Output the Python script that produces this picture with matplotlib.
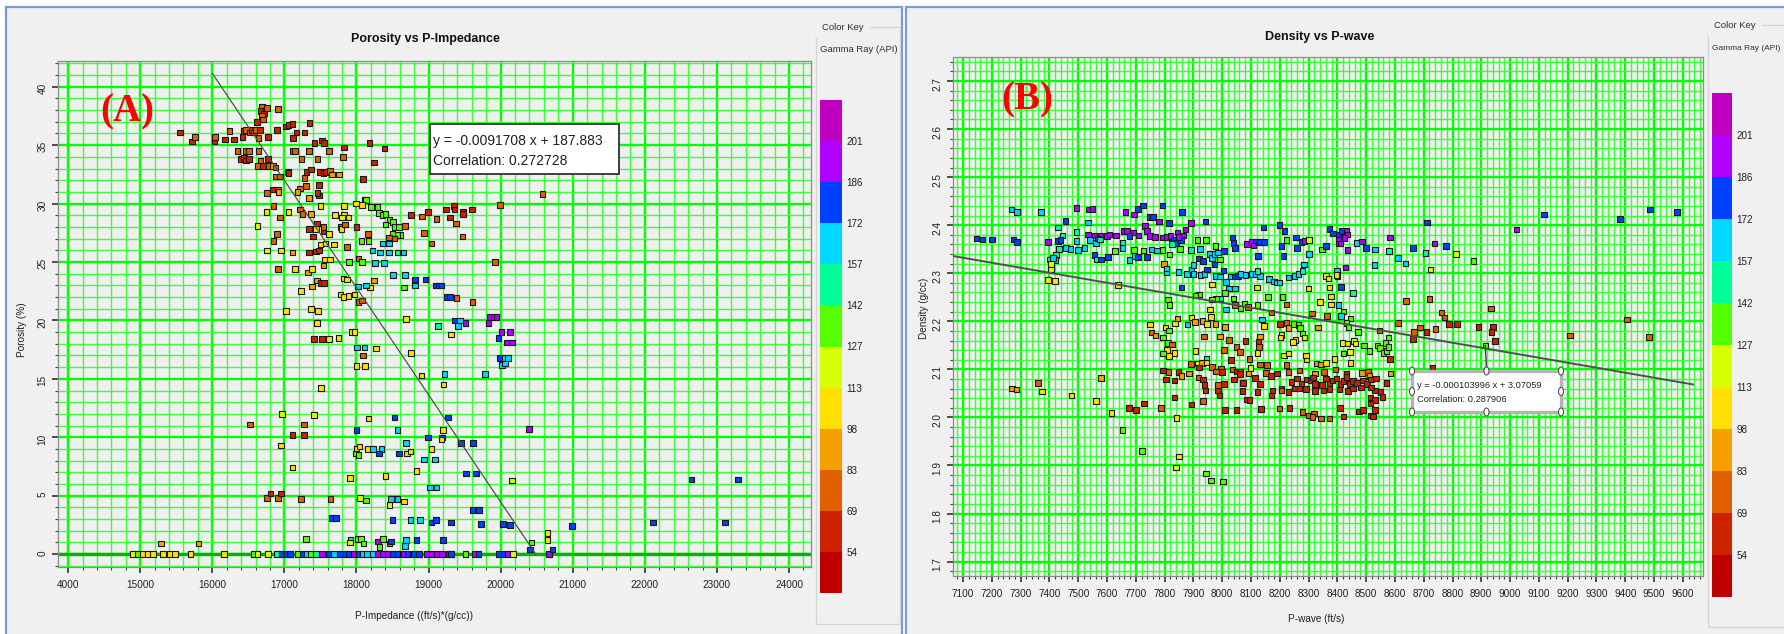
import numpy as np
import matplotlib
matplotlib.use("Agg")
import matplotlib.pyplot as plt
import matplotlib.cm as cm
from matplotlib.colors import ListedColormap, BoundaryNorm
from matplotlib.patches import Rectangle, Ellipse, ConnectionPatch
from matplotlib.ticker import MultipleLocator, FixedLocator, FixedFormatter, FormatStrFormatter

# ---------------------------------------------------------------- colour key
gr_bounds = [39.5, 54, 69, 83, 98, 113, 127, 142, 157, 172, 186, 201, 215.5]
gr_ticks = [54, 69, 83, 98, 113, 127, 142, 157, 172, 186, 201]
gr_colors = ['#c00000', '#cc2200', '#e06000', '#f5a000', '#ffe000', '#d8ff00',
             '#55ff00', '#00ff99', '#00d8ff', '#0040ff', '#b000ff', '#c000c0']

# ---------------------------------------------------------------- (A) porosity vs P-impedance
por_imp = [
    16690, 16760, 16910, 16670, 16720, 16690, 16700, 16620, 17020, 17060,
    17110, 17350, 15550, 15720, 15760, 16030, 16040, 16180, 16240, 16300,
    16420, 16440, 16470, 16520, 16550, 16580, 16600, 16660, 16640, 16770,
    16900, 17170, 17280, 17120, 17420, 17520, 17550, 18180, 17830, 18390,
    17620, 17810, 17340, 17460, 17240, 17120, 17150, 16350, 16470, 16510,
    16640, 16390, 16440, 16470, 16510, 16670, 16770, 16630, 16700, 16780,
    16840, 16880, 17050, 17060, 17310, 17370, 17490, 17540, 17580, 17630,
    17660, 17760, 18240, 18090, 17280, 16880, 16940, 17300, 17220, 17180,
    17480, 16840, 16910, 16760, 16920, 17480, 17340, 17460, 18110, 18130,
    18080, 17990, 17830, 17500, 16850, 16750, 17060, 16940, 17220, 17250,
    17370, 17700, 17830, 17800, 17890, 18200, 18290, 18310, 18360, 18400,
    18460, 18400, 18510, 18530, 18590, 18610, 18560, 18500, 18450, 18530,
    18670, 18760, 18910, 18990, 19110, 19240, 19350, 19360, 19480, 19480,
    19600, 19300, 19380, 19470, 19990, 18940, 19040, 16630, 16900, 16850,
    16760, 16950, 17110, 16910, 17150, 17330, 17380, 17340, 17400, 17450,
    17440, 17540, 17540, 17620, 17690, 17500, 17570, 17440, 17340, 17480,
    17560, 17630, 17540, 17780, 17790, 17840, 18000, 17870, 18160, 18170,
    18070, 17900, 18030, 18080, 18220, 18330, 18360, 18450, 18450, 18570,
    18650, 18260, 18380, 18510, 18670, 18810, 18810, 18960, 19100, 19140,
    19180, 18660, 19920, 17820, 17870, 18240, 18190, 18020, 18130, 17450,
    17500, 17550, 17380, 17230, 17780, 17820, 17890, 17970, 18030, 18080,
    19250, 19300, 19390, 19610, 17020, 17370, 17470, 17450, 18690, 19130,
    19360, 19440, 19410, 19510, 19850, 19900, 19940, 19830, 17930, 17970,
    17410, 17520, 17620, 17750, 19310, 20010, 20130, 19970, 20090, 20160,
    18010, 18110, 18270, 18090, 18760, 19990, 20060, 20100, 20020, 20060,
    18000, 18120, 18900, 19220, 19780, 19210, 17510, 16970, 17410, 16520,
    17270, 17110, 17270, 18170, 18530, 19270, 18000, 18570, 20390, 19200,
    18990, 19190, 19180, 19450, 19620, 16950, 18000, 18040, 17990, 18030,
    18160, 18230, 18350, 18310, 18590, 18700, 18750, 18690, 19040, 18940,
    19090, 17110, 18830, 19520, 19660, 17910, 18400, 20160, 19020, 19110,
    16760, 16810, 16910, 16950, 17230, 17640, 18050, 18130, 18460, 18480,
    18570, 18660, 19610, 19700, 17660, 17720, 18500, 18750, 18880, 19040,
    19100, 19310, 19730, 20030, 20130, 15290, 15810, 17300, 17920, 17910,
    18020, 18060, 18100, 18300, 18370, 18320, 18460, 18480, 18690, 18670,
    18830, 19200, 20430, 20410, 22650, 23290, 22110, 23110, 20990, 20650,
    20650, 20720, 20580,
]
por_phi = [
    38.3, 38.2, 38.1, 37.9, 37.7, 37.5, 37.2, 37.0, 36.6, 36.7,
    36.8, 36.9, 36.1, 35.3, 35.7, 35.3, 35.7, 35.5, 36.2, 35.5,
    35.7, 36.2, 36.3, 36.1, 36.3, 36.1, 36.3, 36.3, 35.6, 35.7,
    36.3, 36.1, 36.1, 35.6, 35.2, 35.4, 35.2, 35.2, 34.8, 34.7,
    34.5, 34.0, 34.5, 33.8, 33.8, 34.5, 34.5, 34.5, 34.5, 34.5,
    34.5, 33.8, 33.9, 33.7, 33.8, 33.7, 33.8, 33.2, 33.2, 33.2,
    33.2, 33.1, 32.7, 32.6, 32.7, 32.9, 32.7, 32.6, 32.7, 32.8,
    32.5, 32.5, 33.5, 32.1, 32.2, 32.3, 32.3, 31.5, 31.3, 31.0,
    31.6, 31.2, 31.2, 30.9, 31.0, 30.7, 30.5, 30.9, 30.3, 30.3,
    29.9, 30.0, 29.8, 29.8, 29.8, 29.3, 29.3, 28.8, 29.5, 29.1,
    29.1, 29.0, 29.0, 28.8, 28.8, 29.7, 29.7, 29.2, 29.0, 29.1,
    28.6, 28.2, 28.4, 28.0, 28.0, 27.3, 27.3, 27.4, 27.1, 27.0,
    28.1, 29.0, 28.9, 29.3, 28.7, 29.5, 29.8, 29.5, 29.3, 29.1,
    29.5, 28.8, 28.3, 27.2, 29.9, 27.5, 26.6, 28.1, 27.4, 26.8,
    26.0, 26.0, 25.8, 24.4, 24.4, 24.1, 24.4, 27.8, 27.2, 28.3,
    27.8, 27.6, 28.0, 27.4, 26.5, 26.5, 26.6, 25.9, 25.8, 26.0,
    25.2, 25.2, 24.7, 28.0, 27.8, 28.2, 28.0, 26.3, 27.4, 26.8,
    26.8, 25.0, 25.3, 25.0, 26.0, 25.8, 26.6, 26.6, 25.8, 25.8,
    25.8, 24.9, 24.9, 23.9, 23.9, 23.5, 23.0, 23.5, 23.0, 23.0,
    23.0, 22.8, 25.0, 23.6, 23.5, 23.4, 22.8, 22.9, 23.0, 23.4,
    23.2, 23.2, 22.9, 22.5, 22.2, 22.0, 22.1, 22.2, 21.6, 21.7,
    22.0, 22.0, 21.9, 21.6, 20.8, 21.0, 20.8, 19.8, 20.1, 19.5,
    20.0, 20.0, 19.5, 19.8, 20.3, 20.3, 20.3, 19.8, 19.0, 19.0,
    18.4, 18.4, 18.4, 18.5, 18.8, 19.0, 19.0, 18.5, 18.1, 18.1,
    17.7, 17.7, 17.6, 17.0, 17.2, 16.8, 16.8, 16.8, 16.2, 16.3,
    16.1, 16.1, 15.3, 15.4, 15.4, 14.5, 14.2, 12.0, 11.9, 11.1,
    11.1, 10.2, 10.2, 11.6, 11.7, 11.7, 10.6, 10.6, 10.7, 10.6,
    10.0, 10.0, 9.8, 9.5, 9.5, 9.3, 9.0, 9.2, 8.6, 8.5,
    9.0, 9.0, 9.0, 8.6, 8.6, 8.6, 8.8, 9.5, 9.0, 8.1,
    8.1, 7.4, 7.1, 6.9, 6.9, 6.5, 6.7, 6.3, 5.7, 5.7,
    4.8, 5.2, 4.8, 5.2, 4.7, 4.7, 4.8, 4.6, 4.2, 4.7,
    4.7, 4.5, 3.8, 3.8, 3.1, 3.1, 2.9, 2.9, 2.9, 2.7,
    2.9, 2.7, 2.6, 2.6, 2.5, 0.9, 0.9, 1.3, 1.2, 1.0,
    1.3, 1.3, 0.9, 1.1, 1.3, 0.6, 0.9, 1.1, 1.2, 0.7,
    1.2, 1.2, 1.0, 0.4, 6.4, 6.4, 2.7, 2.7, 2.4, 1.8,
    1.2, 0.4, 30.8,
]
por_gr = [
    76, 76, 76, 61, 61, 76, 76, 61, 61, 61,
    61, 61, 61, 61, 76, 61, 76, 61, 76, 61,
    61, 61, 76, 76, 61, 76, 76, 61, 76, 61,
    61, 61, 61, 61, 61, 61, 61, 61, 61, 61,
    76, 76, 76, 76, 76, 76, 76, 76, 76, 76,
    76, 61, 61, 61, 61, 76, 61, 76, 61, 76,
    90, 76, 61, 61, 61, 61, 61, 61, 61, 76,
    90, 90, 61, 61, 76, 76, 76, 76, 76, 90,
    61, 61, 76, 76, 90, 61, 90, 61, 134, 134,
    105, 105, 105, 105, 76, 105, 105, 76, 76, 76,
    90, 105, 105, 120, 105, 134, 134, 134, 134, 134,
    134, 134, 134, 134, 134, 134, 134, 134, 76, 76,
    76, 61, 76, 61, 76, 61, 61, 61, 61, 61,
    61, 61, 76, 76, 76, 76, 76, 120, 76, 76,
    120, 105, 90, 76, 105, 90, 105, 61, 61, 61,
    105, 61, 76, 105, 105, 105, 105, 61, 61, 61,
    105, 105, 90, 76, 105, 76, 61, 76, 76, 134,
    134, 134, 76, 134, 164, 164, 164, 164, 164, 150,
    164, 164, 164, 164, 164, 179, 164, 179, 179, 179,
    179, 134, 76, 105, 105, 90, 105, 164, 164, 90,
    61, 61, 90, 105, 105, 105, 105, 105, 76, 76,
    179, 179, 76, 76, 105, 105, 105, 105, 105, 150,
    179, 164, 164, 193, 193, 193, 193, 193, 105, 105,
    61, 61, 105, 105, 105, 193, 193, 179, 193, 193,
    164, 164, 105, 76, 105, 179, 164, 164, 164, 164,
    105, 105, 105, 164, 164, 105, 105, 120, 120, 76,
    76, 61, 61, 105, 179, 179, 179, 164, 193, 105,
    179, 179, 105, 179, 179, 105, 105, 105, 134, 134,
    105, 164, 164, 179, 179, 105, 105, 164, 105, 164,
    164, 105, 105, 179, 179, 105, 105, 120, 164, 164,
    76, 61, 76, 61, 76, 76, 120, 134, 120, 164,
    164, 105, 179, 179, 179, 179, 179, 164, 164, 179,
    179, 179, 179, 179, 179, 90, 90, 134, 150, 120,
    134, 134, 134, 193, 134, 134, 164, 179, 164, 164,
    179, 179, 134, 179, 179, 179, 179, 179, 179, 105,
    105, 179, 76,
]
# samples logged at zero porosity
tight_imp = [
    14900, 14960, 15030, 15100, 15180, 15320, 15410, 15480, 15700, 16160,
    16570, 16630, 16770, 16890, 16970, 17030, 17080, 17180, 17250, 17310,
    17360, 17440, 17520, 17620, 17690, 17770, 17850, 17890, 17960, 18030,
    18090, 18150, 18230, 18300, 18370, 18440, 18510, 18570, 18650, 18710,
    18790, 18870, 18980, 19050, 19120, 19190, 19280, 19310, 19510, 19640,
    19690, 19970, 20040, 20100, 20170, 20670,
]
tight_gr = [
    120, 134, 105, 105, 105, 105, 105, 105, 105, 105,
    134, 120, 120, 150, 179, 179, 179, 134, 179, 164,
    134, 150, 193, 179, 164, 179, 179, 179, 193, 179,
    164, 164, 164, 193, 193, 193, 179, 179, 193, 179,
    179, 179, 193, 193, 193, 193, 179, 179, 134, 193,
    179, 179, 179, 193, 120, 193,
]
por_slope, por_intercept, por_corr = -0.0091708, 187.883, 0.272728

# ---------------------------------------------------------------- (B) density vs P-wave
den_vp = [
    7268, 7287, 7370, 7494, 7535, 7550, 7664, 7693, 7707, 7724,
    7792, 7860, 7455, 7533, 7747, 7759, 7781, 7815, 7891, 7942,
    7732, 8711, 9118, 9022, 7429, 7494, 7446, 7533, 7557, 7578,
    7599, 7608, 7632, 7659, 7670, 7690, 7678, 7710, 7738, 7749,
    7766, 7792, 7809, 7820, 7844, 7866, 7873, 7832, 7840, 7856,
    7849, 8143, 8199, 8217, 8373, 8384, 8404, 8415, 8432, 8435,
    8425, 8404, 8405, 8486, 8583, 8466, 8500, 8531, 8580, 8662,
    8706, 8737, 8778, 8812, 8873, 8611, 8636, 8529, 8724,
    7146, 7167, 7200, 7275, 7287, 7395, 7429, 7438, 7457, 7473,
    7433, 7423, 7401, 7419, 7412, 7405, 7405, 7395, 7419, 7494,
    7500, 7521, 7540, 7561, 7568, 7575, 7557, 7565, 7579, 7603,
    7627, 7653, 7653, 7639,
    7678, 7693, 7695, 7707, 7727, 7738, 7755, 7773, 7792, 7797,
    7806, 7806, 7817, 7826, 7854, 7849, 7877, 7891, 7894, 7915,
    7922, 7919, 7934, 7901, 7925, 7939, 7948, 7956, 7965, 7973,
    7976, 7986, 7993, 8007, 8004, 7943, 7900, 7979, 7993, 8014,
    8030, 8044, 8054, 8064, 8081, 8104, 8118, 8132, 8123, 8163,
    8180, 8189, 8199, 8231, 8251, 8265, 8279, 8285, 8398, 8401,
    8361, 8370, 8397, 8036, 8040, 8045, 8087, 8104, 8118, 8132,
    8146, 8125, 8108, 8206, 8213, 8224, 8257, 8259, 8276, 8286,
    8301, 8302, 8347, 8361, 8411, 8435, 8429, 7973,
    7858, 7965, 8024, 8044, 8121, 8159, 8210, 8299, 8373, 8412,
    8454, 8378, 8010, 7993, 7979, 7965, 7919, 7908, 7812, 7817,
    8040, 8044, 8014, 8064, 8078, 8089, 8123, 8172, 8223, 8340,
    8378, 8404, 8421, 8412, 8446, 8432, 8638, 8720, 8933, 8762,
    8772, 8787, 8815, 8890, 8940, 8935, 8948, 9209, 8611, 8687,
    8709, 8741, 8666, 8662, 8546, 8578, 8567, 8914, 8364, 8312,
    7958, 7962, 7844, 7837, 7894, 7905, 7931, 7948, 7976, 8010,
    7880, 7749, 7755, 7769, 7803, 7815, 8139, 8146, 8200, 8223,
    8231, 8248, 8265, 8271, 8279, 8286, 8254, 8245, 8206, 8203,
    8333, 8438, 8472,
    7795, 7812, 7826, 7809, 7816, 7795, 7834, 7908, 7936, 7993,
    8024, 8050, 8061, 8081, 8126, 8128, 8123, 8132, 8007, 7946,
    7914, 7929, 7945, 7965, 7996, 8030, 8095, 8132, 8155, 8098,
    8214, 8230, 8223, 8293, 8291, 8328, 8344, 8361, 8390, 8446,
    8418, 8435, 8458, 8463, 8444, 8422, 8492, 8512, 8539, 8549,
    8560, 8571, 8577, 8583, 8730,
    7795, 7813, 7849, 7885, 7891, 7919, 7979, 7999, 8036, 8050,
    8064, 8092, 8152, 8191, 8231, 8269, 8322, 8354, 8393, 8432,
    8486, 8506, 8512, 8585, 7805, 7834, 7858, 7917, 7934, 7939,
    7985, 8007, 8041, 8061, 8072, 8113, 8132, 8169, 8206, 8241,
    8259, 8276, 8293, 8309, 8316, 8322, 8347, 8361, 8373, 8383,
    8397, 8411, 8421, 8432, 8444, 8454, 8468, 8489, 8503, 8517,
    8534, 8571, 8322, 8352, 8373, 8407, 8437, 8455, 8483, 8531,
    8550, 8517, 7942, 7986, 7990, 8071, 8087, 8095, 8123, 8174,
    8172, 8206, 8231, 8252, 8269, 8291, 8515, 8531, 8557, 7834,
    7934, 7894, 7729, 7677, 7700, 7788, 8010, 8050, 8135, 8199,
    8234, 8279, 8302, 8319, 8313, 8344, 8373, 8421, 8410, 8475,
    8489, 8515, 8524, 8515, 8531,
    7270, 7285, 7361, 7374, 7476, 7562, 7579, 7615, 7841, 7722,
    7850, 7840, 7944, 7961, 8003, 9381, 9485, 9579, 9406, 9482,
    7653,
]
den_rho = [
    2.433, 2.428, 2.428, 2.436, 2.433, 2.434, 2.428, 2.422, 2.434, 2.441,
    2.441, 2.428, 2.409, 2.406, 2.417, 2.417, 2.408, 2.404, 2.405, 2.408,
    2.398, 2.406, 2.422, 2.391, 2.395, 2.386, 2.379, 2.381, 2.379, 2.379,
    2.377, 2.381, 2.379, 2.388, 2.388, 2.385, 2.378, 2.379, 2.388, 2.378,
    2.376, 2.374, 2.376, 2.378, 2.385, 2.379, 2.391, 2.369, 2.363, 2.369,
    2.376, 2.395, 2.400, 2.388, 2.392, 2.383, 2.381, 2.388, 2.388, 2.381,
    2.373, 2.369, 2.362, 2.366, 2.374, 2.363, 2.353, 2.349, 2.346, 2.353,
    2.342, 2.362, 2.357, 2.340, 2.325, 2.332, 2.320, 2.317, 2.308,
    2.372, 2.370, 2.370, 2.370, 2.365, 2.365, 2.367, 2.369, 2.353, 2.350,
    2.350, 2.338, 2.329, 2.327, 2.332, 2.319, 2.308, 2.286, 2.284, 2.367,
    2.348, 2.353, 2.369, 2.363, 2.372, 2.370, 2.338, 2.329, 2.329, 2.334,
    2.346, 2.363, 2.352, 2.276,
    2.327, 2.348, 2.336, 2.334, 2.347, 2.334, 2.349, 2.347, 2.348, 2.319,
    2.302, 2.310, 2.339, 2.361, 2.350, 2.303, 2.299, 2.348, 2.308, 2.369,
    2.350, 2.331, 2.326, 2.299, 2.296, 2.299, 2.308, 2.340, 2.332, 2.340,
    2.357, 2.343, 2.329, 2.346, 2.306, 2.369, 2.317, 2.294, 2.293, 2.282,
    2.293, 2.293, 2.294, 2.298, 2.296, 2.299, 2.299, 2.294, 2.305, 2.288,
    2.283, 2.281, 2.281, 2.291, 2.294, 2.299, 2.305, 2.318, 2.305, 2.293,
    2.294, 2.289, 2.296, 2.374, 2.363, 2.353, 2.361, 2.365, 2.365, 2.365,
    2.365, 2.336, 2.358, 2.357, 2.336, 2.369, 2.374, 2.352, 2.365, 2.367,
    2.369, 2.340, 2.349, 2.357, 2.362, 2.348, 2.312, 2.318,
    2.270, 2.277, 2.268, 2.268, 2.270, 2.251, 2.251, 2.268, 2.270, 2.271,
    2.259, 2.252, 2.259, 2.247, 2.247, 2.245, 2.256, 2.254, 2.245, 2.234,
    2.247, 2.234, 2.225, 2.227, 2.237, 2.230, 2.234, 2.218, 2.235, 2.240,
    2.235, 2.234, 2.220, 2.211, 2.206, 2.197, 2.242, 2.246, 2.227, 2.218,
    2.208, 2.194, 2.194, 2.188, 2.188, 2.178, 2.159, 2.170, 2.197, 2.187,
    2.178, 2.184, 2.178, 2.163, 2.181, 2.166, 2.155, 2.150, 2.211, 2.216,
    2.225, 2.209, 2.206, 2.195, 2.208, 2.199, 2.201, 2.194, 2.194, 2.188,
    2.193, 2.193, 2.177, 2.170, 2.187, 2.181, 2.204, 2.190, 2.194, 2.197,
    2.186, 2.194, 2.192, 2.186, 2.175, 2.166, 2.161, 2.157, 2.171, 2.166,
    2.187, 2.188, 2.178,
    2.166, 2.155, 2.152, 2.140, 2.128, 2.133, 2.134, 2.138, 2.168, 2.168,
    2.161, 2.147, 2.136, 2.159, 2.157, 2.147, 2.134, 2.168, 2.140, 2.122,
    2.112, 2.113, 2.114, 2.105, 2.102, 2.119, 2.122, 2.110, 2.109, 2.103,
    2.129, 2.133, 2.109, 2.121, 2.129, 2.112, 2.110, 2.113, 2.122, 2.113,
    2.155, 2.154, 2.159, 2.154, 2.136, 2.133, 2.150, 2.138, 2.150, 2.145,
    2.134, 2.138, 2.147, 2.122, 2.104,
    2.098, 2.095, 2.095, 2.091, 2.111, 2.104, 2.096, 2.095, 2.100, 2.096,
    2.095, 2.091, 2.093, 2.091, 2.095, 2.098, 2.091, 2.095, 2.100, 2.091,
    2.093, 2.095, 2.086, 2.091, 2.079, 2.077, 2.086, 2.083, 2.079, 2.067,
    2.067, 2.070, 2.079, 2.090, 2.072, 2.082, 2.070, 2.086, 2.060, 2.074,
    2.081, 2.070, 2.079, 2.077, 2.083, 2.070, 2.067, 2.081, 2.070, 2.077,
    2.081, 2.070, 2.076, 2.084, 2.070, 2.076, 2.072, 2.077, 2.070, 2.079,
    2.081, 2.072, 2.055, 2.056, 2.059, 2.058, 2.055, 2.060, 2.062, 2.056,
    2.053, 2.062, 2.056, 2.056, 2.046, 2.055, 2.037, 2.036, 2.053, 2.056,
    2.046, 2.056, 2.053, 2.060, 2.060, 2.059, 2.041, 2.036, 2.043, 2.041,
    2.034, 2.027, 2.029, 2.020, 2.016, 2.020, 2.016, 2.016, 2.018, 2.019,
    2.020, 2.011, 2.004, 2.008, 2.001, 1.998, 1.998, 2.002, 2.020, 2.012,
    2.015, 2.004, 2.002, 2.029, 2.015,
    2.060, 2.058, 2.072, 2.054, 2.046, 2.034, 2.082, 2.009, 1.999, 1.930,
    1.919, 1.896, 1.883, 1.869, 1.867, 2.413, 2.433, 2.427, 2.204, 2.167,
    1.974,
]
den_gr = [
    164, 164, 164, 193, 193, 193, 193, 193, 179, 179,
    179, 179, 179, 164, 179, 179, 193, 179, 193, 179,
    193, 179, 179, 193, 150, 150, 150, 193, 193, 193,
    193, 193, 193, 193, 193, 193, 179, 193, 193, 193,
    193, 193, 193, 193, 193, 193, 193, 179, 179, 179,
    193, 179, 179, 179, 179, 179, 179, 179, 193, 193,
    193, 193, 193, 193, 193, 164, 179, 164, 150, 179,
    150, 193, 179, 120, 134, 164, 164, 164, 120,
    179, 179, 179, 179, 179, 193, 179, 179, 164, 164,
    150, 150, 150, 150, 164, 120, 120, 105, 105, 164,
    164, 164, 164, 164, 193, 150, 179, 150, 179, 179,
    134, 150, 164, 105,
    164, 134, 164, 179, 134, 179, 164, 164, 134, 90,
    164, 164, 134, 150, 134, 164, 164, 150, 164, 134,
    164, 179, 179, 164, 164, 164, 179, 164, 164, 164,
    134, 164, 134, 179, 179, 134, 164, 164, 164, 164,
    164, 179, 179, 164, 164, 164, 164, 164, 150, 164,
    164, 164, 164, 164, 164, 164, 150, 164, 164, 164,
    105, 105, 105, 179, 179, 179, 193, 193, 179, 179,
    179, 179, 193, 179, 179, 134, 179, 179, 179, 193,
    120, 164, 134, 179, 193, 193, 193, 179,
    179, 105, 164, 164, 105, 134, 134, 105, 105, 179,
    150, 105, 134, 150, 134, 134, 134, 134, 134, 134,
    134, 76, 164, 134, 134, 76, 134, 76, 76, 105,
    105, 164, 134, 164, 134, 134, 76, 76, 76, 76,
    76, 61, 61, 61, 61, 61, 61, 76, 76, 76,
    61, 76, 76, 61, 76, 134, 134, 134, 76, 76,
    105, 105, 90, 105, 105, 90, 90, 105, 90, 90,
    164, 105, 76, 90, 105, 134, 164, 105, 61, 76,
    90, 134, 134, 134, 134, 120, 105, 105, 120, 105,
    90, 134, 134,
    134, 134, 76, 105, 105, 134, 105, 105, 76, 90,
    76, 76, 76, 61, 61, 76, 105, 90, 76, 150,
    120, 90, 105, 76, 76, 61, 76, 76, 76, 120,
    120, 105, 76, 105, 105, 90, 90, 105, 105, 105,
    120, 105, 120, 120, 120, 134, 134, 134, 134, 134,
    134, 134, 134, 61, 61,
    61, 76, 61, 90, 76, 61, 76, 61, 76, 61,
    76, 90, 76, 61, 76, 76, 90, 76, 76, 61,
    90, 76, 90, 90, 61, 61, 90, 76, 61, 61,
    76, 61, 61, 61, 61, 61, 61, 61, 61, 61,
    61, 61, 61, 61, 61, 61, 61, 61, 61, 61,
    61, 61, 61, 61, 61, 61, 61, 61, 61, 61,
    61, 61, 61, 61, 61, 61, 61, 61, 61, 61,
    61, 61, 61, 61, 61, 61, 61, 61, 61, 61,
    61, 76, 61, 61, 61, 61, 61, 61, 61, 61,
    76, 61, 61, 61, 61, 76, 61, 61, 61, 76,
    61, 76, 76, 76, 76, 76, 76, 61, 61, 61,
    61, 61, 61, 61, 61,
    90, 90, 76, 105, 105, 105, 90, 105, 105, 134,
    105, 120, 134, 134, 134, 179, 179, 179, 76, 76,
    134,
]
den_slope, den_intercept, den_corr = -0.000103996, 3.07059, 0.287906

# ---------------------------------------------------------------- figure
W, H, DPI = 1784, 634, 100
plt.rcParams['font.family'] = ['Liberation Sans', 'DejaVu Sans']

TICK_FS = 7.2
LABEL_FS = 7.2
TITLE_FS = 9.0
KEY_FS = 6.8


def fx(px):
    return px / W


def fy(py):
    return 1.0 - py / H


fig = plt.figure(figsize=(W / DPI, H / DPI), dpi=DPI, facecolor='white')

# window frames behind each chart
for x0, x1 in [(6, 902), (906, 1800)]:
    fig.patches.append(Rectangle((fx(x0), fy(700)), fx(x1) - fx(x0), fy(7) - fy(700),
                                 transform=fig.transFigure, facecolor='#f0f0f0',
                                 edgecolor='#7b9bd1', lw=1.6, zorder=-10))

cmap = ListedColormap(gr_colors)
norm = BoundaryNorm(gr_bounds, cmap.N)


def style_axes(ax, xmaj, xmin, ymaj, ymin):
    ax.set_facecolor('#f0f0f0')
    ax.xaxis.set_major_locator(xmaj)
    ax.xaxis.set_minor_locator(MultipleLocator(xmin))
    ax.yaxis.set_major_locator(MultipleLocator(ymaj))
    ax.yaxis.set_minor_locator(MultipleLocator(ymin))
    ax.set_axisbelow(True)
    ax.grid(which='minor', color='#3cff3c', lw=1.0)
    ax.grid(which='major', color='#00ff00', lw=1.7)
    for s in ax.spines.values():
        s.set_color('#8c8c8c')
        s.set_linewidth(0.9)
    ax.tick_params(which='major', length=4.5, width=1.1, color='#202020',
                   labelsize=TICK_FS, labelcolor='#202020')
    ax.tick_params(which='minor', length=2.5, width=0.8, color='#404040')
    ax.tick_params(axis='x', which='major', pad=5)
    ax.tick_params(axis='y', which='major', pad=3, labelrotation=90)


def colour_key(cax):
    sm = cm.ScalarMappable(norm=norm, cmap=cmap)
    cb = fig.colorbar(sm, cax=cax, spacing='uniform', ticks=gr_ticks)
    cb.outline.set_visible(False)
    cb.set_ticklabels([str(t) for t in gr_ticks])
    cax.minorticks_off()
    cax.tick_params(which='both', length=0, labelsize=KEY_FS + 0.3, pad=3,
                    labelcolor='#202020')


def key_box(x0, x1, y0, y1, name_fs):
    fig.patches.append(Rectangle((fx(x0), fy(y1)), fx(x1) - fx(x0), fy(y0) - fy(y1),
                                 transform=fig.transFigure, facecolor='none',
                                 edgecolor='#d4d4d4', lw=0.9, zorder=-5))
    fig.text(fx(x0 + 6), fy(y0), 'Color Key', fontsize=KEY_FS, color='#303030',
             ha='left', va='center', backgroundcolor='#f0f0f0')
    fig.text(fx(x0 + 4), fy(y0 + 23), 'Gamma Ray (API)', fontsize=name_fs, color='#303030',
             ha='left', va='center')


# ---------------- panel A
axA = fig.add_axes([fx(58), fy(567), fx(811) - fx(58), fy(61) - fy(567)])
style_axes(axA, FixedLocator(np.arange(14000, 24001, 1000)), 200, 5, 1)
axA.xaxis.set_major_formatter(FixedFormatter(['4000'] + [str(v) for v in range(15000, 24001, 1000)]))
axA.set_xlim(13860, 24305)
axA.set_ylim(-1.1, 42.2)
axA.axhline(0, color='#00b400', lw=2.4, zorder=1.5)

axA.scatter(tight_imp, np.zeros(len(tight_imp)), c=tight_gr, cmap=cmap, norm=norm,
            marker='s', s=16, edgecolors='#1a1a1a', linewidths=0.8, zorder=3)
axA.scatter(por_imp, por_phi, c=por_gr, cmap=cmap, norm=norm,
            marker='s', s=16, edgecolors='#1a1a1a', linewidths=0.8, zorder=3)
x_fit = np.array([16000.0, -por_intercept / por_slope])
axA.plot(x_fit, por_slope * x_fit + por_intercept, color='#505050', lw=0.9, zorder=4)

fig.text(fx(425), fy(39), 'Porosity vs P-Impedance', fontsize=TITLE_FS, fontweight='bold',
         ha='center', va='center', color='#101010')
fig.text(fx(414), fy(616), 'P-Impedance ((ft/s)*(g/cc))', fontsize=LABEL_FS,
         ha='center', va='center', color='#202020')
fig.text(fx(22), fy(330), 'Porosity (%)', fontsize=LABEL_FS, rotation=90,
         ha='center', va='center', color='#202020')
fig.text(fx(127), fy(112), '(A)', fontsize=28, fontweight='bold', color='#ff0000',
         family=['Liberation Serif', 'DejaVu Serif'], ha='center', va='center')

fig.patches.append(Rectangle((fx(430), fy(174)), fx(619) - fx(430), fy(124) - fy(174),
                             transform=fig.transFigure, facecolor='white',
                             edgecolor='#303030', lw=1.3, zorder=5))
fig.text(fx(433), fy(141), f'y = {por_slope} x + {por_intercept}', fontsize=10,
         ha='left', va='center', color='#202020', zorder=6)
fig.text(fx(433), fy(161), f'Correlation: {por_corr}', fontsize=10,
         ha='left', va='center', color='#202020', zorder=6)

caxA = fig.add_axes([fx(820), fy(593), fx(842) - fx(820), fy(100) - fy(593)])
colour_key(caxA)
key_box(816, 900, 27, 624, KEY_FS)

# ---------------- panel B
axB = fig.add_axes([fx(953), fy(576), fx(1703) - fx(953), fy(57) - fy(576)])
style_axes(axB, MultipleLocator(100), 20, 0.1, 0.02)
axB.yaxis.set_major_formatter(FormatStrFormatter('%.1f'))
axB.set_xlim(7065, 9670)
axB.set_ylim(1.67, 2.75)

axB.scatter(den_vp, den_rho, c=den_gr, cmap=cmap, norm=norm,
            marker='s', s=16, edgecolors='#1a1a1a', linewidths=0.8, zorder=3)
x_fit = np.array([7065.0, 9635.0])
axB.plot(x_fit, den_slope * x_fit + den_intercept, color='#505050', lw=1.4, zorder=4)

fig.text(fx(1320), fy(37), 'Density vs P-wave', fontsize=TITLE_FS, fontweight='bold',
         ha='center', va='center', color='#101010')
fig.text(fx(1316), fy(619), 'P-wave (ft/s)', fontsize=LABEL_FS,
         ha='center', va='center', color='#202020')
fig.text(fx(924), fy(308), 'Density (g/cc)', fontsize=LABEL_FS, rotation=90,
         ha='center', va='center', color='#202020')
fig.text(fx(1027), fy(100), '(B)', fontsize=28, fontweight='bold', color='#ff0000',
         family=['Liberation Serif', 'DejaVu Serif'], ha='center', va='center')

# selected regression label with its leader to the picked sample
bx0, bx1, by0, by1 = 1412, 1561, 371, 412
fig.patches.append(Rectangle((fx(bx0), fy(by1)), fx(bx1) - fx(bx0), fy(by0) - fy(by1),
                             transform=fig.transFigure, facecolor='white',
                             edgecolor='#b4b4b4', lw=2.4, zorder=5))
pick = (8914, 2.150)
fig.add_artist(ConnectionPatch(xyA=pick, coordsA=axB.transData,
                               xyB=(fx((bx0 + bx1) / 2), fy(by0)), coordsB=fig.transFigure,
                               color='#303030', lw=0.9, zorder=4))
for hx in (bx0, (bx0 + bx1) / 2, bx1):
    for hy in (by0, (by0 + by1) / 2, by1):
        if hx == (bx0 + bx1) / 2 and hy == (by0 + by1) / 2:
            continue
        fig.patches.append(Ellipse((fx(hx), fy(hy)), 5 / W, 8 / H, transform=fig.transFigure,
                                   facecolor='white', edgecolor='#404040', lw=0.7, zorder=7))
fig.text(fx(1417), fy(386), f'y = {den_slope:.9f} x + {den_intercept}', fontsize=6.7,
         ha='left', va='center', color='#202020', zorder=6)
fig.text(fx(1417), fy(400), f'Correlation: {den_corr}', fontsize=6.7,
         ha='left', va='center', color='#202020', zorder=6)

caxB = fig.add_axes([fx(1712), fy(597), fx(1732) - fx(1712), fy(93) - fy(597)])
colour_key(caxB)
key_box(1708, 1800, 25, 627, 6.0)

fig.savefig('out.png', dpi=DPI, facecolor=fig.get_facecolor())
